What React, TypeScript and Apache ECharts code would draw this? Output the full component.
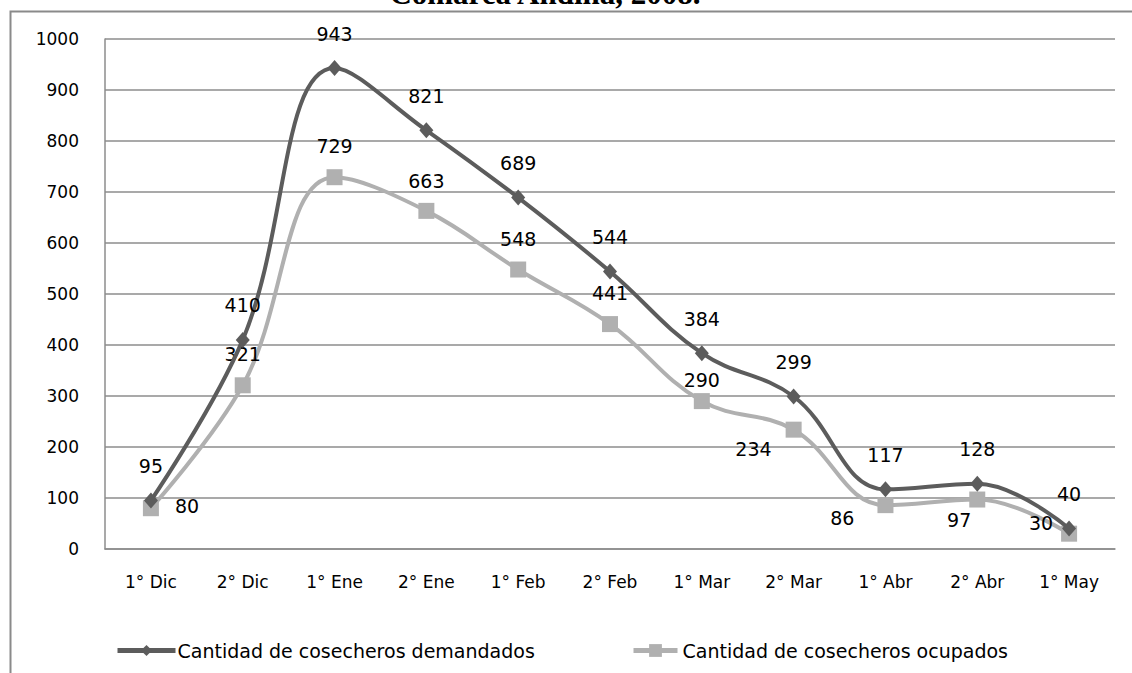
import React, { useEffect, useRef } from "react";
import * as echarts from "echarts";

const categories = ["1° Dic", "2° Dic", "1° Ene", "2° Ene", "1° Feb", "2° Feb", "1° Mar", "2° Mar", "1° Abr", "2° Abr", "1° May"];
const demandados = [95, 410, 943, 821, 689, 544, 384, 299, 117, 128, 40];
const ocupados = [80, 321, 729, 663, 548, 441, 290, 234, 86, 97, 30];
const yTicks = [0, 100, 200, 300, 400, 500, 600, 700, 800, 900, 1000];
const titleText = "Comarca Andina, 2008.";
const nameDemandados = "Cantidad de cosecheros demandados";
const nameOcupados = "Cantidad de cosecheros ocupados";

const FONT = "DejaVu Sans";

// label placement for the "ocupados" series (per point)
const ocupadosLabelPos: any[] = [
  { position: "right", distance: 4, offset: [12, -2] },
  { position: "top", distance: 14 },
  { position: "top", distance: 14 },
  { position: "top", distance: 12 },
  { position: "top", distance: 13 },
  { position: "top", distance: 14 },
  { position: "top", distance: 4 },
  { position: "left", distance: 5, offset: [-9, 19] },
  { position: "left", distance: 5, offset: [-18, 13] },
  { position: "left", distance: 5, offset: [7, 20] },
  { position: "left", distance: 5, offset: [-3, -11] },
];

export default function App() {
  const ref = useRef<HTMLDivElement>(null);
  useEffect(() => {
    if (!ref.current) return;
    const chart = echarts.init(ref.current, undefined, { renderer: "svg" });
    const labelStyle = { color: "#000", fontFamily: FONT, fontSize: 19 };
    chart.setOption({
      animation: false,
      backgroundColor: "#fff",
      graphic: [
        {
          type: "rect",
          shape: { x: 10.5, y: 11.5, width: 1300, height: 800 },
          style: { fill: "none", stroke: "#8a8a8a", lineWidth: 2 },
          silent: true,
        },
        {
          type: "text",
          x: 545,
          y: 9,
          style: {
            text: titleText,
            font: "bold 31px 'Liberation Serif'",
            fill: "#000",
            textAlign: "center",
            textVerticalAlign: "bottom",
          },
          silent: true,
        },
      ],
      grid: { left: 105, right: 17, top: 39, bottom: 124, containLabel: false },
      xAxis: {
        type: "category",
        data: categories,
        boundaryGap: true,
        axisLine: { lineStyle: { color: "#8c8c8c", width: 1.5 } },
        axisTick: { inside: true, length: 7, lineStyle: { color: "#8c8c8c", width: 1.5 } },
        axisLabel: { color: "#000", fontFamily: FONT, fontSize: 17, margin: 24, interval: 0 },
        splitLine: { show: false },
      },
      yAxis: {
        type: "value",
        min: yTicks[0],
        max: yTicks[yTicks.length - 1],
        interval: 100,
        axisLine: { show: true, lineStyle: { color: "#8c8c8c", width: 1.5 } },
        axisTick: { show: false },
        axisLabel: { color: "#000", fontFamily: FONT, fontSize: 17, margin: 26, formatter: (v: number) => String(v) },
        splitLine: { lineStyle: { color: "#8c8c8c", width: 1.5 } },
      },
      legend: [
        {
          data: [nameDemandados],
          left: 110,
          top: 636,
          itemWidth: 58,
          itemHeight: 14,
          itemGap: 0,
          lineStyle: { width: 5 },
          textStyle: { color: "#000", fontFamily: FONT, fontSize: 19, padding: [0, 0, 0, -3] },
        },
        {
          data: [nameOcupados],
          left: 626,
          top: 636,
          itemWidth: 44,
          itemHeight: 16,
          lineStyle: { width: 5 },
          textStyle: { color: "#000", fontFamily: FONT, fontSize: 19, padding: [0, 0, 0, 0] },
        },
      ],
      series: [
        {
          name: nameOcupados,
          type: "line",
          data: ocupados.map((v, i) => ({
            value: v,
            label: { show: true, ...ocupadosLabelPos[i], ...labelStyle },
          })),
          smooth: 0.4,
          symbol: "rect",
          symbolSize: 16,
          lineStyle: { color: "#b0b0b0", width: 4 },
          itemStyle: { color: "#b0b0b0" },
          z: 2,
        },
        {
          name: nameDemandados,
          type: "line",
          data: demandados,
          smooth: 0.4,
          symbol: "diamond",
          symbolSize: [14, 16],
          lineStyle: { color: "#5c5c5c", width: 4 },
          itemStyle: { color: "#5c5c5c" },
          label: { show: true, position: "top", distance: 17, ...labelStyle },
          z: 3,
        },
      ],
    });
    return () => chart.dispose();
  }, []);
  return (
    <div
      ref={ref}
      style={{ position: "fixed", left: 0, top: 0, width: 1132, height: 673 }}
    />
  );
}
